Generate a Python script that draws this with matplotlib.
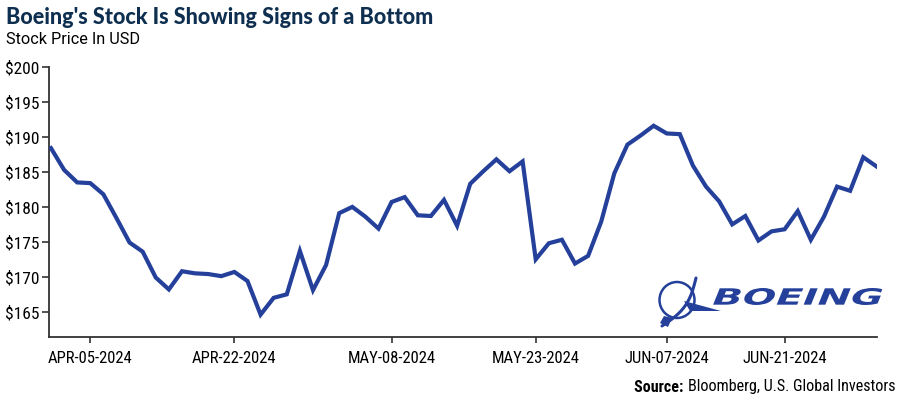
import numpy as np
import pandas as pd
import matplotlib
matplotlib.use('Agg')
import matplotlib.pyplot as plt
from matplotlib import font_manager
from matplotlib.patches import Ellipse, PathPatch, Polygon
from matplotlib.textpath import TextPath
from matplotlib.font_manager import FontProperties
from matplotlib.transforms import Affine2D

# trading days, Apr 2 - Jul 2 2024 (Memorial Day and Juneteenth closed)
dates = pd.bdate_range('2024-04-02', '2024-07-02', freq='C',
                       holidays=['2024-05-27', '2024-06-19'])

price = [188.4, 185.3, 183.5, 183.4, 181.8, 178.4, 174.9, 173.6, 169.9, 168.2,
         170.8, 170.5, 170.4, 170.1, 170.7, 169.4, 164.6, 167.0, 167.5, 173.7,
         168.1, 171.7, 179.1, 180.0, 178.6, 176.9, 180.7, 181.4, 178.8, 178.7,
         181.0, 177.3, 183.3, 185.1, 186.8, 185.1, 186.5, 172.5, 174.8, 175.3,
         171.9, 173.0, 177.9, 184.8, 188.9, 190.2, 191.6, 190.5, 190.4, 185.9,
         182.9, 180.8, 177.5, 178.7, 175.2, 176.5, 176.8, 179.4, 175.3, 178.6,
         182.9, 182.3, 187.1, 185.8]

tick_idx = [3, 14, 26, 37, 47, 56]
tick_labels = [dates[i].strftime('%b-%d-%Y').upper() for i in tick_idx]
y_ticks = [165, 170, 175, 180, 185, 190, 195, 200]

blue = '#24409a'
navy = '#0e2f50'

# pick a condensed face if one is installed
names = {f.name for f in font_manager.fontManager.ttflist}
stretch = 'normal'
narrow_fam = 'DejaVu Sans'
for cand in ['Liberation Sans Narrow', 'Roboto Condensed', 'Open Sans Condensed']:
    if cand in names:
        narrow_fam = cand
        break
else:
    if any(f.name == 'DejaVu Sans' and f.stretch == 'condensed'
           for f in font_manager.fontManager.ttflist):
        stretch = 'condensed'

def nfont(size, weight='normal'):
    return FontProperties(family=narrow_fam, stretch=stretch, size=size, weight=weight)

fig = plt.figure(figsize=(9, 3.99), dpi=100)
ax = fig.add_axes([49 / 900, 1 - 337 / 399, 828 / 900, 270 / 399])

x = np.arange(len(price))
ax.plot(x, price, color=blue, lw=3.0, solid_joinstyle='miter', zorder=3)

ax.set_xlim(-0.15, 63.05)
ax.set_ylim(161.4, 200)
ax.set_xticks(tick_idx)
ax.set_xticklabels(tick_labels, fontproperties=nfont(12))
ax.set_yticks(y_ticks)
ax.set_yticklabels(['$%d' % v for v in y_ticks], fontproperties=nfont(12.5))
ax.tick_params(axis='both', direction='out', width=1.2, color='#333333',
               labelcolor='black')
ax.tick_params(axis='x', length=4, pad=6)
ax.tick_params(axis='y', length=5, pad=2)
for s in ['top', 'right']:
    ax.spines[s].set_visible(False)
for s in ['left', 'bottom']:
    ax.spines[s].set_color('#333333')
    ax.spines[s].set_linewidth(1.3)

fig.text(6 / 900, 1 - 18 / 399, "Boeing's Stock Is Showing Signs of a Bottom",
         family=['Lato', 'DejaVu Sans'], weight='black', fontsize=15.5, color=navy,
         va='center', ha='left')
fig.text(6 / 900, 1 - 40 / 399, "Stock Price In USD", family=['Roboto', 'DejaVu Sans'],
         fontsize=11.7, color='black', va='center', ha='left')

src = fig.text(895 / 900, 1 - 387 / 399, "Bloomberg, U.S. Global Investors",
               fontproperties=nfont(11.6), ha='right', va='center')
fig.canvas.draw()
bb = src.get_window_extent()
fig.text(bb.x0 / 900, 1 - 387 / 399, "Source: ", fontproperties=nfont(11.6, 'bold'),
         ha='right', va='center')

# Boeing logo, drawn in pixel coords on an overlay
ov = fig.add_axes([0, 0, 1, 1], zorder=5)
ov.set_xlim(0, 900)
ov.set_ylim(399, 0)
ov.axis('off')

tp = TextPath((0, 0), 'BOEING', size=1,
              prop=FontProperties(family='DejaVu Sans', weight='bold'))
ext = tp.get_extents()
tr = (Affine2D().translate(-ext.x0, -ext.y0)
      .scale(164 / ext.width, 17 / ext.height)
      .skew_deg(22, 0)
      .scale(1, -1)
      .translate(713, 305))
ov.add_patch(PathPatch(tr.transform_path(tp), color=blue, lw=0))

ov.add_patch(Ellipse((677, 300), 35, 36, fill=False, ec=blue, lw=1.8))
t = np.linspace(0, 1, 30)
sx = 662 + 34 * t + 6 * np.sin(np.pi * t)
sy = 326 - 48 * t + 4 * np.sin(np.pi * t)
ov.plot(sx, sy, color=blue, lw=2.2, solid_capstyle='round')
ov.add_patch(Polygon([[684, 301], [721, 311], [690, 311]], closed=True, color=blue, lw=0))
ov.add_patch(Polygon([[660, 323], [668, 327], [672, 318], [664, 316]], closed=True,
                     color=blue, lw=0))

fig.savefig('out.png', dpi=100)
